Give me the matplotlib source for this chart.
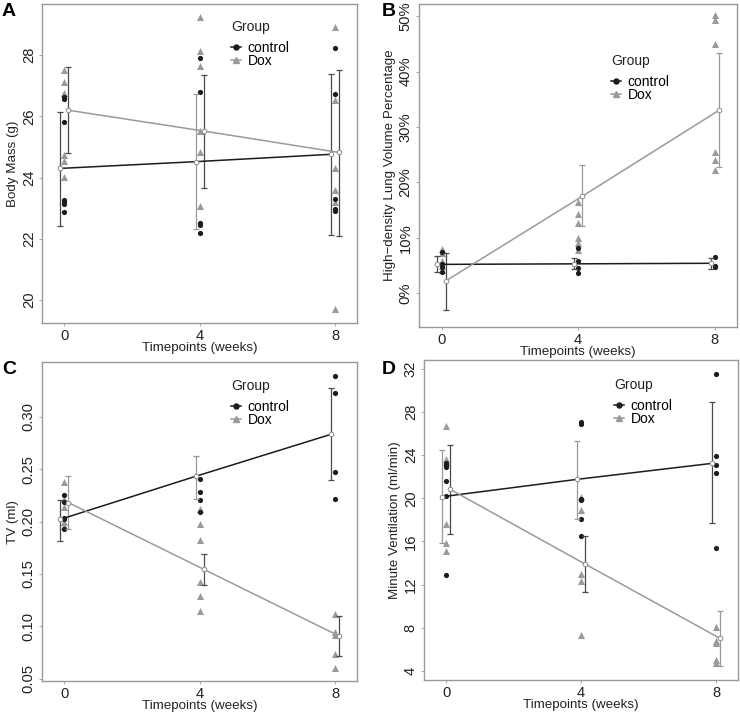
import numpy as np
import matplotlib
matplotlib.use("Agg")
import matplotlib.pyplot as plt
from matplotlib.lines import Line2D
from matplotlib.ticker import FuncFormatter

plt.rcParams['font.family'] = ['Liberation Sans', 'DejaVu Sans']

timepoints = [0, 4, 8]
groups = ["control", "Dox"]

# ---------------- Panel A: Body Mass (g) ----------------
a_ctrl_pts = [[26.64, 26.58, 25.81, 23.28, 23.21, 23.15, 22.89],
              [27.91, 26.80, 22.52, 22.44, 22.19],
              [28.22, 26.72, 23.30, 22.97, 22.91]]
a_dox_pts = [[27.53, 27.13, 26.75, 24.73, 24.54, 24.02],
             [29.23, 28.13, 27.64, 25.52, 24.84, 23.08],
             [28.92, 26.53, 24.32, 23.61, 23.21, 19.71]]
a_ctrl_mean = [24.30, 24.52, 24.76]
a_ctrl_lo = [22.42, 22.31, 22.12]
a_ctrl_hi = [26.15, 26.72, 27.37]
a_dox_mean = [26.20, 25.52, 24.82]
a_dox_lo = [24.79, 23.67, 22.09]
a_dox_hi = [27.62, 27.34, 27.53]

# ---------------- Panel B: High-density lung volume (%) ----------------
b_ctrl_pts = [[7.4, 5.2, 4.8, 3.8],
              [8.2, 5.8, 4.6, 3.6],
              [6.6, 5.0, 4.8]]
b_dox_pts = [[8.0, 7.2, 5.8, 5.0, 4.2],
             [16.5, 14.3, 12.6, 10.0, 9.0, 7.8],
             [50.2, 49.4, 45.0, 25.4, 24.1, 22.2]]
b_ctrl_mean = [5.2, 5.3, 5.4]
b_ctrl_lo = [3.8, 4.3, 4.4]
b_ctrl_hi = [6.7, 6.3, 6.4]
b_dox_mean = [2.2, 17.5, 33.0]
b_dox_lo = [-3.0, 12.2, 22.8]
b_dox_hi = [7.2, 23.2, 43.4]

# ---------------- Panel C: TV (ml) ----------------
c_ctrl_pts = [[0.2255, 0.2191, 0.2032, 0.2025, 0.1927],
              [0.2408, 0.2287, 0.2207, 0.2096],
              [0.3392, 0.3232, 0.2475, 0.2213]]
c_dox_pts = [[0.238, 0.222, 0.214, 0.200, 0.196],
             [0.2125, 0.1975, 0.1825, 0.142, 0.129, 0.1145],
             [0.1121, 0.0946, 0.0914, 0.074, 0.0605]]
c_ctrl_mean = [0.2022, 0.2433, 0.2834]
c_ctrl_lo = [0.1815, 0.2220, 0.2395]
c_ctrl_hi = [0.2204, 0.2627, 0.3280]
c_dox_mean = [0.2182, 0.1545, 0.0908]
c_dox_lo = [0.1927, 0.1398, 0.0717]
c_dox_hi = [0.2433, 0.1688, 0.1099]

# ---------------- Panel D: Minute Ventilation (ml/min) ----------------
d_ctrl_pts = [[23.3, 23.1, 22.9, 21.6, 20.2, 12.9],
              [27.1, 26.9, 19.9, 19.8, 18.1, 16.5],
              [31.5, 23.9, 23.1, 22.3, 15.4]]
d_dox_pts = [[26.65, 23.6, 23.4, 17.6, 15.9, 15.1],
             [20.1, 18.9, 13.0, 12.3, 7.3],
             [8.1, 6.8, 6.6, 5.0, 4.7]]
d_ctrl_mean = [20.14, 21.75, 23.23]
d_ctrl_lo = [15.85, 18.07, 17.67]
d_ctrl_hi = [24.43, 25.33, 28.94]
d_dox_mean = [20.82, 13.90, 7.02]
d_dox_lo = [16.69, 11.28, 4.46]
d_dox_hi = [24.96, 16.50, 9.56]

# error bar shade per (control, Dox) at each time: 'd' dark, 'g' gray
a_ecol = (['d', 'g', 'd'], ['d', 'd', 'd'])
b_ecol = (['d', 'd', 'd'], ['d', 'g', 'g'])
c_ecol = (['d', 'g', 'd'], ['g', 'd', 'd'])
d_ecol = (['g', 'g', 'd'], ['d', 'd', 'g'])

CTRL = '#1c1c1c'
DOX = '#9a9a9a'
ECOL = {'d': '#4a4a4a', 'g': '#9a9a9a'}
SPINE = '#9a9a9a'
FS = 9.6
TFS = 10.6
LFS = 10.0

W, H = 740, 714
fig = plt.figure(figsize=(W / 100, H / 100), dpi=100)


def rect(l, t, r, b):
    return [l / W, 1 - b / H, (r - l) / W, (b - t) / H]


def panel(box, ctrl_pts, dox_pts, cm, clo, chi, dm, dlo, dhi, ecol,
          ylim, yticks, fmt, ylabel, letter, letter_xy, leg_xy):
    ax = fig.add_axes(rect(*box))
    dodge = 0.12
    t = np.array(timepoints, dtype=float)
    # raw points
    for ti, pts in zip(timepoints, dox_pts):
        ax.scatter(np.full(len(pts), ti), pts, marker='^', s=26, color=DOX,
                   linewidths=0, zorder=2)
    for ti, pts in zip(timepoints, ctrl_pts):
        ax.scatter(np.full(len(pts), ti), pts, marker='o', s=14, color=CTRL,
                   linewidths=0, zorder=3)
    # error bars
    for offs, lo, hi, cols in ((-dodge, clo, chi, ecol[0]), (dodge, dlo, dhi, ecol[1])):
        for xi, l, h, c in zip(t + offs, lo, hi, cols):
            ax.errorbar([xi], [(l + h) / 2], yerr=[[(h - l) / 2], [(h - l) / 2]],
                        fmt='none', ecolor=ECOL[c], elinewidth=0.9, capsize=2,
                        capthick=0.9, zorder=4)
    # mean lines
    ax.plot(t - dodge, cm, color=CTRL, lw=1.1, zorder=5)
    ax.plot(t + dodge, dm, color=DOX, lw=1.1, zorder=5)
    ax.plot(t - dodge, cm, ls='none', marker='o', ms=3.3, mfc='white',
            mec='#8a8a8a', mew=0.7, zorder=6)
    ax.plot(t + dodge, dm, ls='none', marker='o', ms=3.3, mfc='white',
            mec='#8a8a8a', mew=0.7, zorder=6)

    ax.set_xlim(-0.66, 8.65)
    ax.set_ylim(*ylim)
    ax.set_xticks(timepoints)
    ax.set_xticklabels([str(v) for v in timepoints])
    ax.set_yticks(yticks)
    ax.yaxis.set_major_formatter(FuncFormatter(fmt))
    ax.tick_params(axis='both', length=2.5, width=0.6, color=SPINE,
                   labelsize=TFS, pad=2, labelcolor='#222222')
    for lab in ax.get_yticklabels():
        lab.set_rotation(90)
        lab.set_va('center')
    for s in ax.spines.values():
        s.set_color(SPINE)
        s.set_linewidth(1.0)
    ax.set_xlabel('Timepoints (weeks)', fontsize=FS, labelpad=-1, color='#222222')
    ax.set_ylabel(ylabel, fontsize=FS, labelpad=2, color='#222222')
    fig.text(letter_xy[0] / W, 1 - letter_xy[1] / H, letter, fontsize=14,
             fontweight='bold', ha='left', va='top')
    # legend
    fig.text(leg_xy[0] / W, 1 - leg_xy[1] / H, 'Group', fontsize=LFS,
             ha='left', va='center', color='#222222')
    handles = [Line2D([0], [0], color=CTRL, lw=1.1, marker='o', ms=3.6),
               Line2D([0], [0], color=DOX, lw=1.1, marker='^', ms=4.2)]
    ax.legend(handles, groups, loc='upper left',
              bbox_to_anchor=(leg_xy[0] / W, 1 - (leg_xy[1] + 14) / H),
              bbox_transform=fig.transFigure, frameon=False,
              fontsize=LFS, handlelength=0.7, handletextpad=0.5,
              labelspacing=-0.1, borderpad=0, borderaxespad=0)
    return ax


panel((42, 4, 357, 323), a_ctrl_pts, a_dox_pts, a_ctrl_mean, a_ctrl_lo, a_ctrl_hi,
      a_dox_mean, a_dox_lo, a_dox_hi, a_ecol, (19.25, 29.67), [20, 22, 24, 26, 28],
      lambda v, p: f'{v:.0f}', 'Body Mass (g)', 'A', (2, 3), (231, 27))

panel((419, 4, 737, 327), b_ctrl_pts, b_dox_pts, b_ctrl_mean, b_ctrl_lo, b_ctrl_hi,
      b_dox_mean, b_dox_lo, b_dox_hi, b_ecol, (-6.1, 52.2), [0, 10, 20, 30, 40, 50],
      lambda v, p: f'{v:.0f}%', 'High\u2212density Lung Volume Percentage', 'B',
      (382, 3), (611, 61))

panel((42, 362, 357, 681), c_ctrl_pts, c_dox_pts, c_ctrl_mean, c_ctrl_lo, c_ctrl_hi,
      c_dox_mean, c_dox_lo, c_dox_hi, c_ecol, (0.0478, 0.3525),
      [0.05, 0.10, 0.15, 0.20, 0.25, 0.30],
      lambda v, p: f'{v:.2f}', 'TV (ml)', 'C', (2, 361), (231, 386))

panel((424, 360, 738, 680), d_ctrl_pts, d_dox_pts, d_ctrl_mean, d_ctrl_lo, d_ctrl_hi,
      d_dox_mean, d_dox_lo, d_dox_hi, d_ecol, (3.17, 32.8),
      [4, 8, 12, 16, 20, 24, 28, 32],
      lambda v, p: f'{v:.0f}', 'Minute Ventilation (ml/min)', 'D', (382, 361),
      (614, 385))

fig.savefig('out.png', dpi=100, facecolor='white')
